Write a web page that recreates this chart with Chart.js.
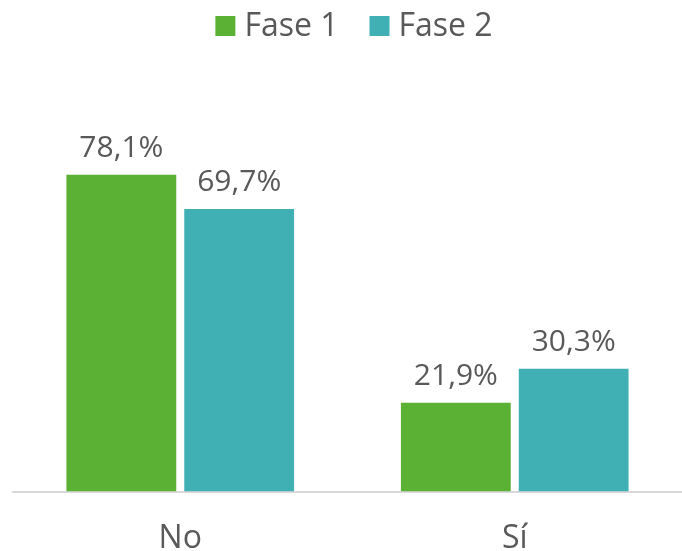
<!DOCTYPE html>
<html>
<head>
<meta charset="utf-8">
<script src="https://cdn.jsdelivr.net/npm/chart.js@4/dist/chart.umd.min.js"></script>
<style>
  html, body { margin: 0; padding: 0; background: #fff; }
  #wrap { width: 682px; height: 551px; }
</style>
</head>
<body>
<div id="wrap"><canvas id="c"></canvas></div>
<script>
const categories = ["No", "Sí"];
const seriesNames = ["Fase 1", "Fase 2"];
const fase1 = [78.1, 21.9];
const fase2 = [69.7, 30.3];
const colors = ["#5BB133", "#41B0B5"];

const FONT = "'Open Sans', 'Noto Sans', sans-serif";
const TEXT = "#595959";
const fmt = v => v.toFixed(1).replace(".", ",") + "%";

// etiquetas de valor encima de cada barra
const valueLabels = {
  id: "valueLabels",
  afterDatasetsDraw(chart) {
    const ctx = chart.ctx;
    ctx.save();
    ctx.font = `30px ${FONT}`;
    ctx.fillStyle = TEXT;
    ctx.textAlign = "center";
    ctx.textBaseline = "alphabetic";
    chart.data.datasets.forEach((ds, i) => {
      chart.getDatasetMeta(i).data.forEach((bar, j) => {
        ctx.fillText(fmt(ds.data[j]), bar.x, bar.y - 18);
      });
    });
    ctx.restore();
  }
};

// leyenda propia: cuadro pegado al texto, como en el original
const topLegend = {
  id: "topLegend",
  afterDraw(chart) {
    const ctx = chart.ctx;
    const box = 20, gap = 9, between = 31, baseY = 36;
    ctx.save();
    ctx.font = `32px ${FONT}`;
    ctx.textBaseline = "alphabetic";
    ctx.textAlign = "left";
    const items = chart.data.datasets.map(ds => ({
      text: ds.label, color: ds.backgroundColor, w: ctx.measureText(ds.label).width,
    }));
    const total = items.reduce((s, it) => s + box + gap + it.w, 0) + between * (items.length - 1);
    let x = 354 - total / 2;
    items.forEach(it => {
      ctx.fillStyle = it.color;
      ctx.fillRect(x, baseY - box, box, box);
      ctx.fillStyle = TEXT;
      ctx.fillText(it.text, x + box + gap, baseY);
      x += box + gap + it.w + between;
    });
    ctx.restore();
  }
};

new Chart(document.getElementById("c"), {
  type: "bar",
  data: {
    labels: categories,
    datasets: [
      { label: seriesNames[0], data: fase1, backgroundColor: colors[0] },
      { label: seriesNames[1], data: fase2, backgroundColor: colors[1] },
    ],
  },
  options: {
    responsive: true,
    maintainAspectRatio: false,
    animation: false,
    layout: { padding: { left: 13, right: 0, top: 86, bottom: -35 } },
    datasets: { bar: { barPercentage: 0.932, categoryPercentage: 0.7045 } },
    plugins: {
      legend: { display: false },
      tooltip: { enabled: false },
    },
    scales: {
      x: {
        grid: { display: false, drawTicks: false },
        border: { color: "#D9D9D9", width: 2 },
        ticks: { color: TEXT, font: { family: FONT, size: 32 }, padding: 28 },
      },
      y: {
        min: 0, max: 100,
        display: false,
      },
    },
  },
  plugins: [valueLabels, topLegend],
});
</script>
</body>
</html>
